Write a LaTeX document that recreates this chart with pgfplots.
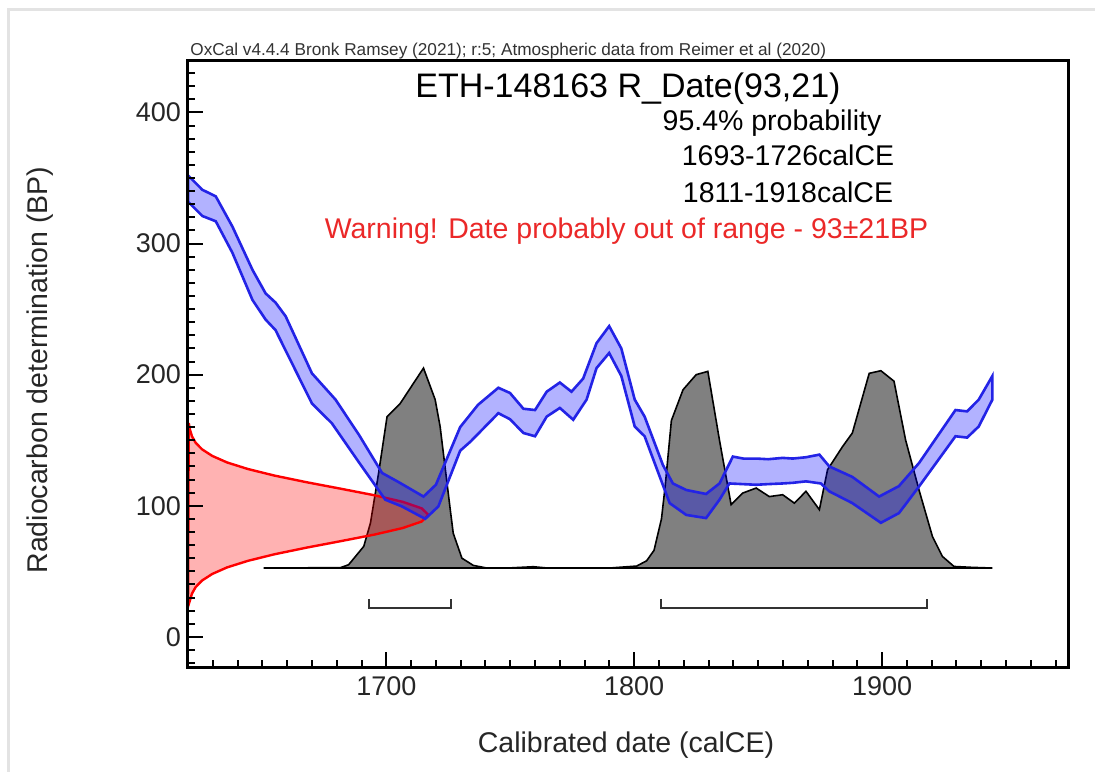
\documentclass[border=0pt]{standalone}
\usepackage{pgfplots}
\pgfplotsset{compat=1.18}
\usepackage{fontspec}
\setmainfont{Liberation Sans}
\definecolor{bandblue}{RGB}{35,35,230}
\definecolor{warnred}{RGB}{235,40,40}
\definecolor{bracket}{RGB}{50,50,50}
\newcommand{\lbl}{\fontsize{14.25}{17}\selectfont}
\begin{document}
\begin{tikzpicture}
\useasboundingbox (-94pt,-52.5pt) rectangle (453.5pt,333.5pt);
\fill[white] (-94pt,-52.5pt) rectangle (453.5pt,333.5pt);
% faint edge of the screenshot
\draw[gray!22, line width=1.5pt] (-89.5pt,-52.5pt) -- (-89.5pt,328.5pt) -- (453.5pt,328.5pt);

\begin{axis}[
  at={(0,0)}, anchor=south west,
  scale only axis, width=440pt, height=303.5pt,
  xmin=1620, xmax=1975, ymin=-23, ymax=440,
  axis on top,
  axis line style={line width=1.5pt},
  tick align=inside, xtick pos=left, ytick pos=left,
  xtick={1700,1800,1900}, xticklabels={1700,1800,1900},
  ytick={0,100,200,300,400}, yticklabels={0,100,200,300,400},
  minor xtick={1620,1630,...,1970},
  minor ytick={-20,-10,...,430},
  major tick length=7.5pt, minor tick length=3.5pt,
  every tick/.style={black, line width=1pt},
  ticklabel style={font=\fontsize{13.5}{16}\selectfont, text=black!85},
  xticklabel style={yshift=-1.5pt},
  clip=true,
]

% calibrated date distribution
\addplot[fill=gray, draw=black, line width=0.8pt] coordinates {
  (1650.5,52.5) (1681.5,52.8) (1684.8,55) (1690.9,69) (1693.6,86.8)
  (1696.9,125) (1700.3,168) (1705.6,178) (1715,205) (1719.7,181)
  (1721.7,160.5) (1725.8,97) (1727,79) (1730.5,60) (1735.1,54.5)
  (1740.5,52.5) (1750,52.6) (1759.3,53.5) (1765,52.5) (1790,52.5)
  (1801,54) (1805,58) (1808,66) (1811,90) (1812.5,115) (1815,165)
  (1819.7,188.5) (1825,200) (1829.7,202.5) (1834.4,150) (1839.1,100.8)
  (1843.8,109.7) (1849.2,113.5) (1854.5,107) (1859.9,108.4) (1864.6,102)
  (1869.3,111) (1874.7,97) (1878,127.5) (1884,145) (1888,155.5)
  (1894.8,201) (1899.5,203) (1904.8,195) (1909.5,150) (1914.9,112)
  (1920.3,76.6) (1924.3,61.4) (1929,53.7) (1936.4,53) (1944.5,52.5)
} -- cycle;

% radiocarbon date 93 +- 21 BP
\addplot[draw=red, fill=red, fill opacity=0.3, line width=1.2pt] coordinates {
  (1620,23) (1620.8,28) (1621.6,33) (1623.1,38) (1625.7,43) (1629.8,48)
  (1635.8,53) (1644.2,58) (1654.9,63) (1667.7,68) (1681.6,73) (1695.2,78)
  (1706.6,83) (1714.3,88) (1717,93) (1714.3,98) (1706.6,103) (1695.2,108)
  (1681.6,113) (1667.7,118) (1654.9,123) (1644.2,128) (1635.8,133)
  (1629.8,138) (1625.7,143) (1623.1,148) (1621.6,153) (1620.8,158) (1620.3,163)
} -- cycle;

% calibration curve band (upper edge, then lower edge back)
\addplot[draw=bandblue, fill=blue, fill opacity=0.3, line width=1.3pt] coordinates {
  (1620,352) (1625.8,341) (1631.2,336) (1637.9,313) (1646,280) (1651.3,262)
  (1655.3,255) (1659.4,244.5) (1670,201) (1679.5,181) (1689,154) (1698.3,125)
  (1705,118) (1715,107) (1720,116) (1729.8,160) (1737,177) (1745.2,190)
  (1749.9,186) (1755.3,174) (1760,173) (1764.7,187) (1770,194) (1774.7,187)
  (1779.4,197) (1784.8,224) (1789.9,237) (1794.8,220) (1800.2,181)
  (1804.2,168) (1811.6,131) (1815.6,117) (1821,112) (1829,109) (1834.4,117)
  (1839.8,137.5) (1844,136) (1849.2,136) (1854,135.5) (1859.9,136.5)
  (1864,136) (1869.3,137) (1874.7,139) (1878.7,130) (1888,122) (1898.8,107)
  (1906.8,115) (1914.9,132.6) (1929.6,173) (1934.3,172) (1939,181) (1944.5,199)
  (1944.5,181) (1939,160.5) (1934.3,152) (1929.6,153) (1914.9,114.7)
  (1906.8,94.4) (1899.5,87) (1888,102) (1878.7,111) (1875.3,117)
  (1869.3,118.6) (1864,117.5) (1859.9,117) (1854,116.5) (1849.2,116)
  (1838.4,117) (1834.4,104.6) (1829,90.6) (1821,93) (1814.3,102)
  (1804.2,153) (1800.2,160.5) (1794.8,199) (1789.9,216.5) (1784.8,205)
  (1780.8,181) (1775.4,165.6) (1770,174.6) (1764.7,168) (1760,153)
  (1755.3,155.5) (1749.9,166) (1745.2,170.6) (1734,149) (1729.8,142)
  (1721,99.5) (1715.7,90) (1706.3,99.5) (1699.6,104.6) (1689,133)
  (1678,163) (1670,178) (1655.3,234) (1651.3,242) (1646,257) (1637.9,293)
  (1631.2,317) (1625.8,321) (1620,332)
} -- cycle;

% 95.4% ranges
\addplot[bracket, line width=1pt] coordinates {(1693,29) (1693,22) (1726,22) (1726,29)};
\addplot[bracket, line width=1pt] coordinates {(1811,29) (1811,22) (1918,22) (1918,29)};
\end{axis}

\node[font=\fontsize{8.6}{10}\selectfont, text=black!80, anchor=base west, inner sep=0pt]
  at (1pt,305.5pt) {OxCal v4.4.4 Bronk Ramsey (2021); r:5; Atmospheric data from Reimer et al (2020)};
\node[font=\fontsize{17}{20}\selectfont, anchor=base, inner sep=0pt] at (220pt,284.5pt) {ETH-148163 R\_Date(93,21)};
\node[font=\lbl, anchor=base, inner sep=0pt] at (292pt,268pt) {95.4\% probability};
\node[font=\lbl, anchor=base, inner sep=0pt] at (300pt,250.5pt) {1693-1726calCE};
\node[font=\lbl, anchor=base, inner sep=0pt] at (300pt,232.5pt) {1811-1918calCE};
\node[font=\lbl, text=warnred, anchor=base, inner sep=0pt] at (219.25pt,214.5pt) {Warning! Date probably out of range - 93±21BP};
\node[font=\lbl, text=black!85, anchor=base, inner sep=0pt] at (219pt,-42.5pt) {Calibrated date (calCE)};
\node[font=\lbl, text=black!85, rotate=90, inner sep=0pt] at (-74pt,148.5pt) {Radiocarbon determination (BP)};
\end{tikzpicture}
\end{document}
